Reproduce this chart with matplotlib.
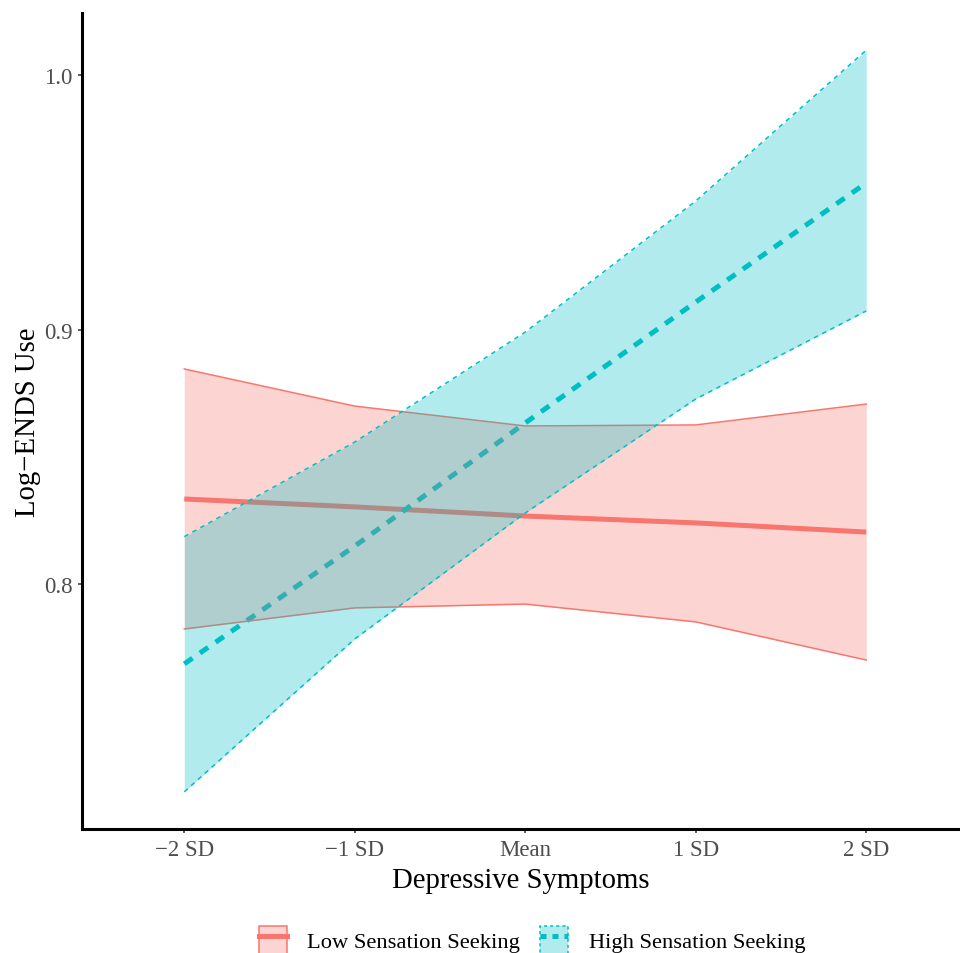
import matplotlib
matplotlib.use("Agg")
import matplotlib.pyplot as plt
from matplotlib.patches import Patch
from matplotlib.lines import Line2D
from matplotlib.legend_handler import HandlerTuple

# depressive symptom levels (-2 SD .. 2 SD)
x_pos = [-2, -1, 0, 1, 2]
x_labels = ["\u22122 SD", "\u22121 SD", "Mean", "1 SD", "2 SD"]

low_mean = [0.8334, 0.8303, 0.8267, 0.8240, 0.8204]
low_upper = [0.8845, 0.8699, 0.8621, 0.8625, 0.8707]
low_lower = [0.7823, 0.7906, 0.7921, 0.7851, 0.7701]

high_mean = [0.7686, 0.8149, 0.8633, 0.9108, 0.9576]
high_upper = [0.8186, 0.8558, 0.8990, 0.9505, 1.0098]
high_lower = [0.7183, 0.7784, 0.8279, 0.8727, 0.9073]

group_labels = ["Low Sensation Seeking", "High Sensation Seeking"]

RED = "#F8766D"
CYAN = "#00BFC4"

plt.rcParams["font.family"] = ["Liberation Serif", "DejaVu Serif"]

fig = plt.figure(figsize=[9.6, 9.54], dpi=100)
ax = fig.add_axes([82 / 960, 1 - 830 / 954, 1 - 82 / 960, (830 - 14) / 954])

# lines first, ribbons over them (as in the original)
ax.plot(x_pos, low_mean, color=RED, linewidth=3.6, solid_capstyle="butt", zorder=1)
ax.plot(x_pos, high_mean, color=CYAN, linewidth=3.6, linestyle=(0, (2, 1.8)),
        dash_capstyle="butt", zorder=1)

ax.fill_between(x_pos, low_lower, low_upper, color=RED, alpha=0.3, linewidth=0, zorder=2)
ax.plot(x_pos, low_upper, color=RED, linewidth=1.1, zorder=3)
ax.plot(x_pos, low_lower, color=RED, linewidth=1.1, zorder=3)

ax.fill_between(x_pos, high_lower, high_upper, color=CYAN, alpha=0.3, linewidth=0, zorder=4)
ax.plot(x_pos, high_upper, color=CYAN, linewidth=1.1, linestyle=(0, (3, 3)), zorder=5)
ax.plot(x_pos, high_lower, color=CYAN, linewidth=1.1, linestyle=(0, (3, 3)), zorder=5)

ax.set_xlim(-2.6, 2.55)
ax.set_ylim(0.7037, 1.0244)
ax.set_xticks(x_pos)
ax.set_xticklabels(x_labels)
ax.set_yticks([0.8, 0.9, 1.0])
ax.set_yticklabels(["0.8", "0.9", "1.0"])

for side in ["top", "right"]:
    ax.spines[side].set_visible(False)
for side in ["left", "bottom"]:
    ax.spines[side].set_linewidth(2.2)
    ax.spines[side].set_color("black")

ax.tick_params(axis="both", length=3, width=1.1, color="#333333",
               labelsize=16.5, labelcolor="#4D4D4D", pad=4)

ax.set_xlabel("Depressive Symptoms", fontsize=20.7, labelpad=5)
ax.set_ylabel("Log\u2212ENDS Use", fontsize=20.7, labelpad=2)

low_handle = (Patch(facecolor=RED, alpha=0.3, edgecolor="none"),
              Patch(facecolor="none", edgecolor=RED, linewidth=1.1),
              Line2D([], [], color=RED, linewidth=3.6))
high_handle = (Patch(facecolor=CYAN, alpha=0.3, edgecolor="none"),
               Patch(facecolor="none", edgecolor=CYAN, linewidth=1.1, linestyle=(0, (2, 2))),
               Line2D([], [], color=CYAN, linewidth=3.6, linestyle=(0, (1.2, 1.2))))

fig.legend([low_handle, high_handle], group_labels,
           handler_map={tuple: HandlerTuple(ndivide=1, pad=0)},
           loc="center", bbox_to_anchor=(532 / 960, 1 - 941 / 954),
           ncol=2, frameon=False, fontsize=16.2, borderpad=0,
           handlelength=1.25, handleheight=1.6, handletextpad=0.9, columnspacing=0.9)

fig.savefig("out.png", dpi=100)
